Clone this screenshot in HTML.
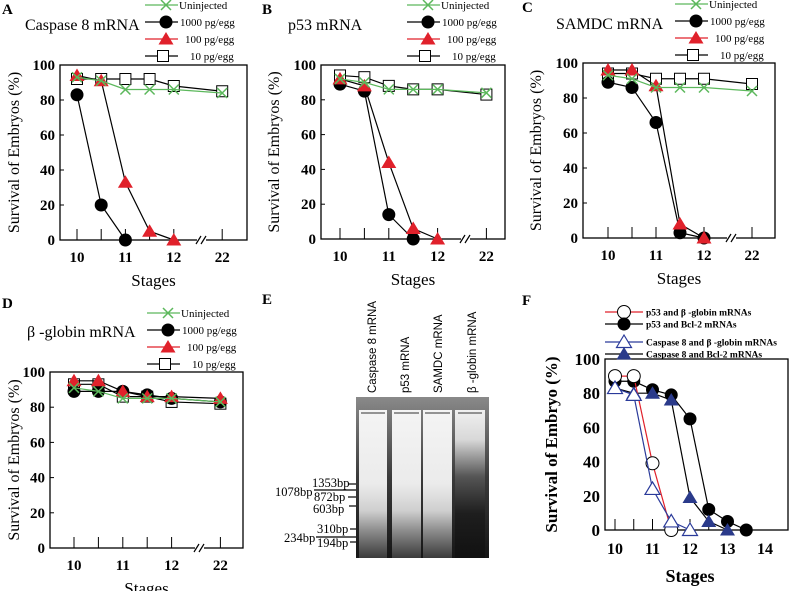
<!DOCTYPE html>
<html><head><meta charset="utf-8"><style>
body{margin:0;background:#fff}
svg{display:block}
text{font-family:"Liberation Serif",serif;fill:#000}
.lg{font-size:11px}
.gl{font-family:"Liberation Sans",sans-serif;font-size:11.5px}
</style></head><body>
<svg id="fig" width="789" height="591" viewBox="0 0 789 591">
<defs>
<linearGradient id="lane" x1="0" y1="0" x2="0" y2="1">
<stop offset="0" stop-color="#f4f4f4"/><stop offset="0.5" stop-color="#ebebeb"/><stop offset="0.68" stop-color="#cfcfcf"/><stop offset="0.82" stop-color="#8a8a8a"/><stop offset="1" stop-color="#3a3a3a"/></linearGradient>
<linearGradient id="laneB" x1="0" y1="0" x2="0" y2="1">
<stop offset="0" stop-color="#f0f0f0"/><stop offset="0.2" stop-color="#d8d8d8"/><stop offset="0.45" stop-color="#555"/><stop offset="0.7" stop-color="#1e1e1e"/><stop offset="1" stop-color="#111"/></linearGradient>
<linearGradient id="gelbg" x1="0" y1="0" x2="0" y2="1">
<stop offset="0" stop-color="#8a8a8a"/><stop offset="0.5" stop-color="#3a3a3a"/><stop offset="1" stop-color="#161616"/></linearGradient>
</defs>
<g id="gel">
<text x="262" y="304" font-weight="bold" font-size="15">E</text>
<rect x="356" y="397" width="133" height="161" fill="url(#gelbg)"/>
<rect x="359" y="410" width="28" height="148" fill="url(#lane)"/>
<rect x="392" y="410" width="29" height="148" fill="url(#lane)"/>
<rect x="423" y="410" width="29" height="148" fill="url(#lane)"/>
<rect x="455" y="410" width="30" height="148" fill="url(#laneB)"/>
<g stroke="#333" stroke-width="1"><line x1="361" y1="413" x2="385" y2="413"/><line x1="394" y1="413" x2="419" y2="413"/><line x1="425" y1="413" x2="450" y2="413"/><line x1="458" y1="413" x2="482" y2="413"/></g>
<text class="gl" transform="translate(376,393) rotate(-90)">Caspase 8 mRNA</text>
<text class="gl" transform="translate(409,393) rotate(-90)">p53 mRNA</text>
<text class="gl" transform="translate(442,393) rotate(-90)">SAMDC mRNA</text>
<text class="gl" transform="translate(476,393) rotate(-90)">β -globin mRNA</text>
<g font-size="12.5">
<text x="312" y="487">1353bp</text><text x="275" y="496">1078bp</text><text x="314" y="501">872bp</text>
<text x="313" y="513">603bp</text><text x="317" y="533">310bp</text><text x="284" y="542">234bp</text><text x="317" y="547">194bp</text>
</g>
<g stroke="#000" stroke-width="1.2">
<line x1="348" y1="484" x2="356" y2="484"/><line x1="314" y1="490" x2="356" y2="490"/><line x1="348" y1="497" x2="356" y2="497"/>
<line x1="349" y1="506" x2="356" y2="506"/><line x1="350" y1="529" x2="356" y2="529"/><line x1="316" y1="537" x2="356" y2="537"/><line x1="350" y1="542" x2="356" y2="542"/>
</g>
</g>
</svg>
<script>
// ---- data ----
const stages = ['10','10.5','11','11.5','12','22'];
const tickStages = ['10','11','12','22'];
const yTicks = [0,20,40,60,80,100];
const seriesNames = ['Uninjected','1000 pg/egg','100 pg/egg','10 pg/egg'];
const aUninjected = [93,91,86,86,86,84];
const a1000 = [83,20,0];
const a100 = [94,91,33,5,0];
const a10 = [92,92,92,92,88,85];
const bUninjected = [92,90,86,86,86,84];
const b1000 = [89,85,14,0];
const b100 = [92,88,44,6,0];
const b10 = [94,93,88,86,86,83];
const cUninjected = [93,91,86,86,86,84];
const c1000 = [89,86,66,3,0];
const c100 = [96,96,87,8,0];
const c10 = [94,94,91,91,91,88];
const dUninjected = [91,89,85,85,85,83];
const d1000 = [89,89,89,87,85,83];
const d100 = [95,95,89,86,86,85];
const d10 = [93,93,86,86,83,82];
const fStages = [10,10.5,11,11.5,12,12.5,13,13.5];
const fTicks = [10,11,12,13,14];
const fNames = ['p53 and β -globin mRNAs','p53 and Bcl-2 mRNAs','Caspase 8 and β -globin mRNAs','Caspase 8 and Bcl-2 mRNAs'];
const fP53Globin = [90,90,39,0];
const fP53Bcl2 = [87,87,82,79,65,12,5,0];
const fCasGlobin = [83,79,24,5,0];
const fCasBcl2 = [83,80,80,76,19,5,0];

const svg = document.getElementById('fig');
const NS = 'http://www.w3.org/2000/svg';
function mk(tag, attrs, parent){const e=document.createElementNS(NS,tag);for(const k in attrs)e.setAttribute(k,attrs[k]);(parent||svg).appendChild(e);return e;}
function marker(type, x, y, g, color){
  let e;
  if(type==='x'){e=mk('path',{d:`M${x-5} ${y-5}L${x+5} ${y+5}M${x-5} ${y+5}L${x+5} ${y-5}`,stroke:'#5cb85c','stroke-width':1.5,fill:'none'},g);}
  else if(type==='dot'){e=mk('circle',{cx:x,cy:y,r:6.5,fill:'#000'},g);}
  else if(type==='odot'){e=mk('circle',{cx:x,cy:y,r:6.5,fill:'#fff',stroke:'#000','stroke-width':1},g);}
  else if(type==='tri'){e=mk('path',{d:`M${x} ${y-7}L${x+7.5} ${y+5.5}L${x-7.5} ${y+5.5}Z`,fill:color||'#e0212b'},g);}
  else if(type==='otri'){e=mk('path',{d:`M${x} ${y-7}L${x+7.5} ${y+5.5}L${x-7.5} ${y+5.5}Z`,fill:'#fff',stroke:'#2a3a9a','stroke-width':1.2},g);}
  else {e=mk('rect',{x:x-5.5,y:y-5.5,width:11,height:11,fill:'#fff',stroke:'#000','stroke-width':1},g);}
  
  
}
const styles=[{m:'x',c:'#5cb85c'},{m:'dot',c:'#000'},{m:'tri',c:'#000'},{m:'sq',c:'#000'}];

function panel(p){
  const g=mk('g',{});
  
  
  const yS=v=>p.bottom-(v/100)*(p.bottom-p.top);
  const slot=i=>i<5?i:6;
  const xS=i=>p.x0+slot(i)*p.dx;
  const lab=mk('text',{x:p.lx,y:p.ly,'font-weight':'bold','font-size':15},g);lab.textContent=p.id.toUpperCase();
  
  const t=mk('text',{x:p.tx,y:p.ty,'font-size':16},g);t.textContent=p.title;
  
  const bx=mk('rect',{x:p.left,y:p.top,width:p.right-p.left,height:p.bottom-p.top,fill:'none',stroke:'#000','stroke-width':1.3},g);
  
  yTicks.forEach(v=>{const tt=mk('text',{x:p.left-5,y:yS(v)+5,'text-anchor':'end','font-weight':'bold','font-size':15},g);tt.textContent=v;
    
    mk('line',{x1:p.left,x2:p.left+4,y1:yS(v),y2:yS(v),stroke:'#000'},g);});
  stages.forEach((s,i)=>{mk('line',{x1:xS(i),x2:xS(i),y1:p.bottom,y2:p.bottom-11,stroke:'#000'},g);});
  stages.forEach((s,i)=>{ if(tickStages.includes(s)){const tt=mk('text',{x:xS(i),y:p.bottom+22,'text-anchor':'middle','font-weight':'bold','font-size':15},g);tt.textContent=s;
    }});
  const bxp=(xS(4)+xS(5))/2+4;
  mk('rect',{x:bxp-5,y:p.bottom-3,width:9,height:6,fill:'#fff'},g);
  mk('path',{d:`M${bxp-6} ${p.bottom+4}L${bxp-1} ${p.bottom-4}M${bxp-1} ${p.bottom+4}L${bxp+4} ${p.bottom-4}`,stroke:'#000','stroke-width':1.2},g);
  const xl=mk('text',{x:(p.left+p.right)/2,y:p.bottom+46,'text-anchor':'middle','font-size':17},g);xl.textContent='Stages';
  
  const yl=mk('text',{transform:`translate(${p.yt},${(p.top+p.bottom)/2}) rotate(-90)`,'text-anchor':'middle','font-size':16},g);yl.textContent='Survival of Embryos (%)';
  
  const data=[p.s[0],p.s[1],p.s[2],p.s[3]];
  [3,1,2,0].forEach(k=>{
    const arr=data[k];const sg=mk('g',{},g);
    
    
    const pts=arr.map((v,i)=>[xS(i),yS(v)]);
    mk('polyline',{points:pts.map(q=>q.join(',')).join(' '),fill:'none',stroke:styles[k].c,'stroke-width':1.2},sg);
    arr.forEach((v,i)=>marker(styles[k].m,xS(i),yS(v),sg));
  });
  seriesNames.forEach((n,k)=>{const y=p.gy+k*17;const lg=mk('g',{},g);
    
    mk('line',{x1:p.gx,x2:p.gx+33,y1:y,y2:y,stroke:k===0?'#5cb85c':(k===2?'#e0212b':'#000'),'stroke-width':1.2},lg);
    marker(styles[k].m,p.gx+21-(k===3?3:0),y,lg);
    const tt=mk('text',{x:p.gx+(k===0?34:(k===1?35:(k===2?40:45))),y:y+4,class:'lg'},lg);tt.textContent=n;});
}
panel({id:'a',title:'Caspase 8 mRNA',lx:2,ly:14,tx:25,ty:30,left:60,right:247,top:65,bottom:240,x0:77,dx:24.2,gx:145,gy:5,yt:19,s:[aUninjected,a1000,a100,a10]});
panel({id:'b',title:'p53 mRNA',lx:262,ly:14,tx:288,ty:30,left:321,right:505,top:65,bottom:239,x0:340,dx:24.4,gx:407,gy:5,yt:279,s:[bUninjected,b1000,b100,b10]});
panel({id:'c',title:'SAMDC mRNA',lx:522,ly:12,tx:556,ty:29,left:583,right:775,top:63,bottom:238,x0:608,dx:24,gx:675,gy:4,yt:541,s:[cUninjected,c1000,c100,c10]});
panel({id:'d',title:'β -globin mRNA',lx:2,ly:308,tx:27,ty:337,left:50,right:243,top:372,bottom:548,x0:74,dx:24.4,gx:147,gy:313,yt:19,s:[dUninjected,d1000,d100,d10]});

(function(){
  const p={left:605,right:788,top:359,bottom:530};
  const g=mk('g',{});
  const yS=v=>p.bottom-(v/100)*(p.bottom-p.top);
  const xS=s=>615+(s-10)*37.5;
  const lab=mk('text',{x:522,y:305,'font-weight':'bold','font-size':15},g);lab.textContent='F';
  
  const bx=mk('rect',{x:p.left,y:p.top,width:p.right-p.left,height:p.bottom-p.top,fill:'none',stroke:'#000','stroke-width':1.3},g);
  
  yTicks.forEach(v=>{const tt=mk('text',{x:p.left-5,y:yS(v)+6,'text-anchor':'end','font-weight':'bold','font-size':17},g);tt.textContent=v;
    });
  fStages.slice(0,7).forEach(s=>mk('line',{x1:xS(s),x2:xS(s),y1:p.bottom,y2:p.bottom-11,stroke:'#000'},g));
  fTicks.forEach(s=>{const tt=mk('text',{x:xS(s),y:p.bottom+24,'text-anchor':'middle','font-weight':'bold','font-size':16},g);tt.textContent=s;
    });
  const xl=mk('text',{x:690,y:p.bottom+52,'text-anchor':'middle','font-size':18,'font-weight':'bold'},g);xl.textContent='Stages';
  
  const yl=mk('text',{transform:`translate(${p.left-48},${(p.top+p.bottom)/2}) rotate(-90)`,'text-anchor':'middle','font-size':17,'font-weight':'bold'},g);yl.textContent='Survival of Embryo (%)';
  
  const ser=[[fP53Globin,'odot','#e0212b'],[fP53Bcl2,'dot','#000'],[fCasGlobin,'otri','#2a3a9a'],[fCasBcl2,'tri','#000']];
  [1,3,0,2].forEach(k=>{const [arr,m,c]=ser[k];const sg=mk('g',{},g);
    
    mk('polyline',{points:arr.map((v,i)=>xS(fStages[i])+','+yS(v)).join(' '),fill:'none',stroke:c,'stroke-width':1.2},sg);
    arr.forEach((v,i)=>{if(m==='tri')marker('tri',xS(fStages[i]),yS(v),sg,'#2a3a8a');else marker(m,xS(fStages[i]),yS(v),sg);});});
  const ly=[312,324,342,354];
  fNames.forEach((n,k)=>{const lg=mk('g',{},g);
    mk('line',{x1:605,x2:643,y1:ly[k],y2:ly[k],stroke:ser[k][2],'stroke-width':1.2},lg);
    if(ser[k][1]==='tri')marker('tri',624,ly[k],lg,'#2a3a8a');else marker(ser[k][1],624,ly[k],lg);
    const tt=mk('text',{x:646,y:ly[k]+3.5,'font-size':9.5,'font-weight':'bold'},lg);tt.textContent=n;});
})();
</script>
</body></html>
